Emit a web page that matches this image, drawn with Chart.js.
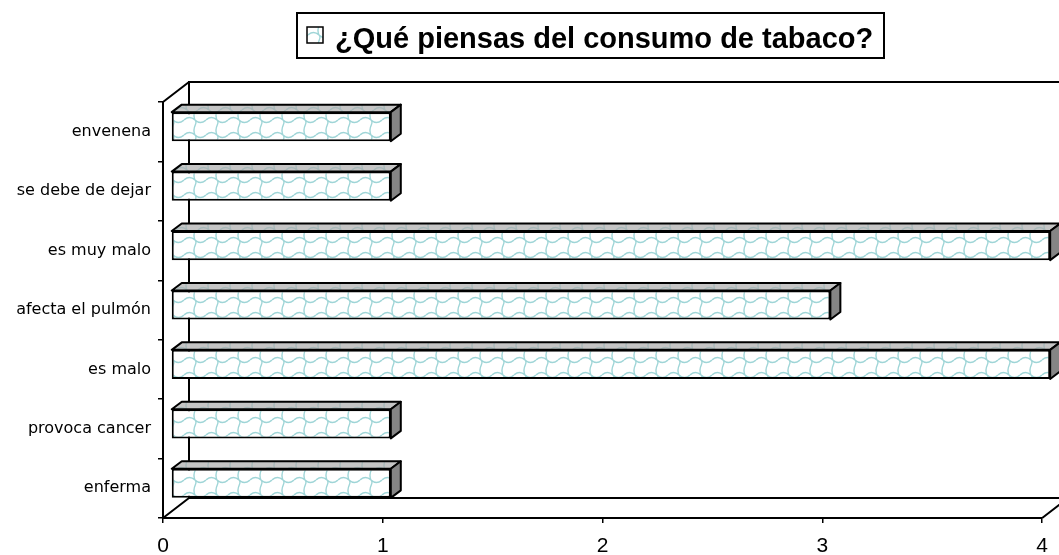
<!DOCTYPE html>
<html>
<head>
<meta charset="utf-8">
<script src="https://cdn.jsdelivr.net/npm/chart.js@4.4.1/dist/chart.umd.min.js"></script>
<style>
  html, body { margin: 0; padding: 0; background: #fff; overflow: hidden; }
  #wrap { width: 1059px; height: 555px; position: relative; }
</style>
</head>
<body>
<div id="wrap"><canvas id="chart"></canvas></div>
<script>
// answers, listed top to bottom
const categories = ["envenena", "se debe de dejar", "es muy malo", "afecta el pulmón", "es malo", "provoca cancer", "enferma"];
const values = [1, 1, 4, 3, 4, 1, 1];
const xTicks = [0, 1, 2, 3, 4];
const seriesLabel = "¿Qué piensas del consumo de tabaco?";

// 3d look: wall depth, bar offset inside the depth, bar own depth
const WALL = { dx: 26, dy: -20 };
const BAR_SHIFT = { x: 8, y: -5 };
const BAR_DEPTH = { dx: 10, dy: -7.5 };

function wavePattern(ctx) {
    const tile = document.createElement("canvas");
    tile.width = 22;
    tile.height = 15;
    const c = tile.getContext("2d");
    c.fillStyle = "#fff";
    c.fillRect(0, 0, 22, 15);
    c.strokeStyle = "#9fd5d7";
    c.lineWidth = 1.4;
    c.beginPath();
    c.moveTo(0, 5);
    c.quadraticCurveTo(5.5, 0, 11, 5);
    c.quadraticCurveTo(16.5, 10, 22, 5);
    c.moveTo(11, 5);
    c.bezierCurveTo(15, 8, 7, 12, 11, 20);
    c.moveTo(11, -10);
    c.bezierCurveTo(15, -7, 7, -3, 11, 5);
    c.stroke();
    return ctx.createPattern(tile, "repeat");
}

const ctx = document.getElementById("chart").getContext("2d");
const fillPattern = wavePattern(ctx);

const depthPlugin = {
    id: "depth3d",
    beforeDatasetsDraw(chart) {
        const { ctx, chartArea: a } = chart;
        ctx.save();
        ctx.strokeStyle = "#000";
        ctx.lineWidth = 2;
        ctx.beginPath();
        // back wall and floor edges
        ctx.moveTo(a.left + WALL.dx, a.bottom + WALL.dy);
        ctx.lineTo(a.left + WALL.dx, a.top + WALL.dy);
        ctx.lineTo(a.right + WALL.dx, a.top + WALL.dy);
        ctx.moveTo(a.left + WALL.dx, a.bottom + WALL.dy);
        ctx.lineTo(a.right + WALL.dx, a.bottom + WALL.dy);
        ctx.moveTo(a.left, a.top);
        ctx.lineTo(a.left + WALL.dx, a.top + WALL.dy);
        ctx.moveTo(a.left, a.bottom);
        ctx.lineTo(a.left + WALL.dx, a.bottom + WALL.dy);
        ctx.moveTo(a.right, a.bottom);
        ctx.lineTo(a.right + WALL.dx, a.bottom + WALL.dy);
        ctx.stroke();
        ctx.restore();
        // bars sit a little inside the depth
        ctx.save();
        ctx.translate(BAR_SHIFT.x, BAR_SHIFT.y);
    },
    afterDatasetsDraw(chart) {
        const { ctx } = chart;
        ctx.restore();
        const meta = chart.getDatasetMeta(0);
        ctx.save();
        ctx.strokeStyle = "#000";
        ctx.lineWidth = 2;
        ctx.lineJoin = "round";
        meta.data.forEach((bar) => {
            const p = bar.getProps(["x", "y", "base", "height"], true);
            const x0 = p.base + BAR_SHIFT.x;
            const x1 = p.x + BAR_SHIFT.x;
            const yT = p.y - p.height / 2 + BAR_SHIFT.y;
            const yB = p.y + p.height / 2 + BAR_SHIFT.y;
            const { dx, dy } = BAR_DEPTH;
            // top face
            ctx.beginPath();
            ctx.moveTo(x0, yT);
            ctx.lineTo(x0 + dx, yT + dy);
            ctx.lineTo(x1 + dx, yT + dy);
            ctx.lineTo(x1, yT);
            ctx.closePath();
            ctx.fillStyle = "#adadad";
            ctx.fill();
            ctx.globalAlpha = 0.3;
            ctx.fillStyle = fillPattern;
            ctx.fill();
            ctx.globalAlpha = 1;
            ctx.stroke();
            // side face
            ctx.beginPath();
            ctx.moveTo(x1, yT);
            ctx.lineTo(x1 + dx, yT + dy);
            ctx.lineTo(x1 + dx, yB + dy);
            ctx.lineTo(x1, yB);
            ctx.closePath();
            ctx.fillStyle = "#858585";
            ctx.fill();
            ctx.stroke();
        });
        ctx.restore();
    },
    afterDraw(chart) {
        const { ctx } = chart;
        ctx.save();
        // series box above the plot
        ctx.fillStyle = "#fff";
        ctx.fillRect(297, 13, 587, 45);
        ctx.strokeStyle = "#000";
        ctx.lineWidth = 2;
        ctx.strokeRect(297, 13, 587, 45);
        ctx.fillStyle = fillPattern;
        ctx.fillRect(307, 27, 16, 16);
        ctx.lineWidth = 1.5;
        ctx.strokeRect(307, 27, 16, 16);
        ctx.fillStyle = "#000";
        ctx.font = "bold 29px 'Liberation Sans', Arial, sans-serif";
        ctx.textBaseline = "alphabetic";
        ctx.fillText(seriesLabel, 335, 48);
        ctx.restore();
    }
};

new Chart(ctx, {
    type: "bar",
    data: {
        labels: categories,
        datasets: [{
            label: seriesLabel,
            data: values,
            backgroundColor: fillPattern,
            borderColor: "#000",
            borderWidth: 2,
            borderSkipped: false,
            categoryPercentage: 1,
            barPercentage: 0.49,
            clip: false
        }]
    },
    options: {
        indexAxis: "y",
        responsive: true,
        maintainAspectRatio: false,
        animation: false,
        layout: { padding: { top: 102, right: 16, bottom: 0, left: 0 } },
        plugins: {
            legend: { display: false },
            tooltip: { enabled: false }
        },
        scales: {
            x: {
                min: 0,
                max: 4,
                afterBuildTicks: (scale) => {
                    scale.ticks = xTicks.map((v) => ({ value: v }));
                },
                afterFit: (scale) => {
                    scale.height = 37;
                },
                grid: { drawOnChartArea: false, drawTicks: true, tickLength: 5, color: "#000", lineWidth: 1.5 },
                border: { display: true, color: "#000", width: 2 },
                ticks: {
                    color: "#000",
                    padding: 11,
                    maxRotation: 0,
                    font: { family: "'Liberation Sans', Arial, sans-serif", size: 21 }
                }
            },
            y: {
                afterFit: (scale) => {
                    scale.width = 163;
                },
                grid: { drawOnChartArea: false, drawTicks: true, tickLength: 5, color: "#000", lineWidth: 1.5, offset: true },
                border: { display: true, color: "#000", width: 2 },
                ticks: {
                    color: "#000",
                    padding: 7,
                    font: { family: "'DejaVu Sans', sans-serif", size: 16 }
                }
            }
        }
    },
    plugins: [depthPlugin]
});
</script>
</body>
</html>
